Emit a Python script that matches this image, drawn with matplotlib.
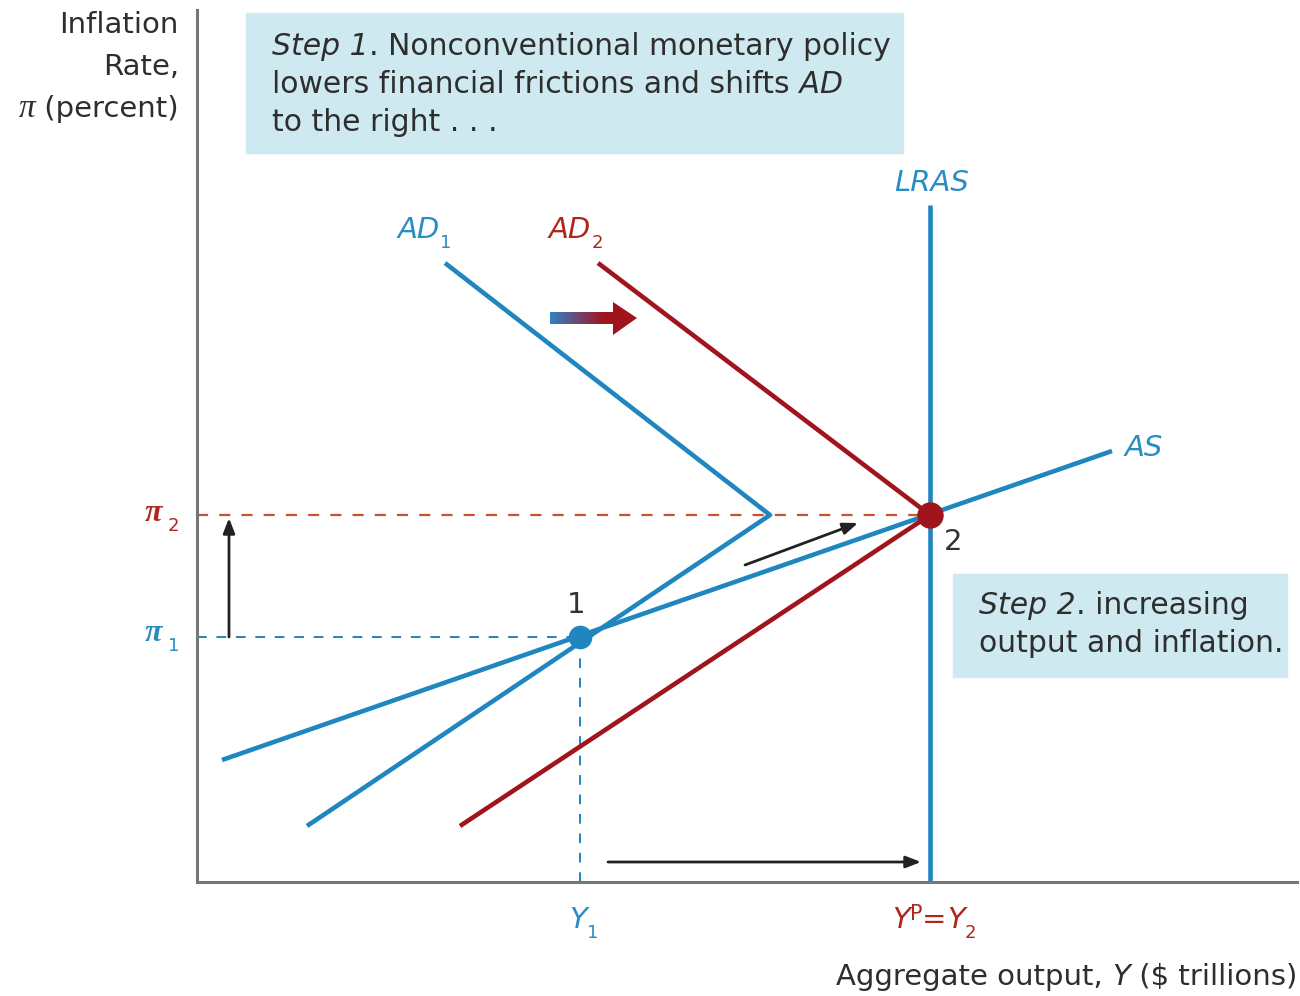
import numpy as np
import matplotlib
matplotlib.use("Agg")
import matplotlib.pyplot as plt
from matplotlib.patches import Polygon, Rectangle
from matplotlib.colors import LinearSegmentedColormap

plt.rcParams['font.family'] = ['DejaVu Sans']

# ---- data (diagram units, origin at axis corner) ----
ad1_x = [248, 573, 110]
ad1_y = [619, 367, 56]
ad2_x = [401, 733, 263]
ad2_y = [619, 367, 56]
as_x = [25, 915]
as_y = [122, 431]
lras_x = [733, 733]
lras_y = [0, 677]
eq1 = (383, 245)
eq2 = (733, 367)

BLUE = '#1f86bf'
RED = '#a0141c'
DRED = '#c8532e'
BLACK = '#222222'
TXT = '#2e2e2e'
BOX = '#cfe9f1'
LBLUE = '#2a8cc4'
LRED = '#b0261e'

fig = plt.figure(figsize=(13, 9.96), dpi=100)
ax = fig.add_axes([197/1300, (996-882)/996, 1100/1300, 872/996])
ax.set_xlim(0, 1100)
ax.set_ylim(0, 872)
for s in ['top', 'right']:
    ax.spines[s].set_visible(False)
for s in ['left', 'bottom']:
    ax.spines[s].set_color('#777777')
    ax.spines[s].set_linewidth(2.2)
ax.set_xticks([])
ax.set_yticks([])

renderer = fig.canvas.get_renderer()


def P(px, py):
    """reference pixel position -> diagram units"""
    return px - 197, 882 - py


def runs(px, py, parts, ha='left', color=TXT, size=21):
    """draw text segments on a common baseline; parts = (text, opts)"""
    x0, y0 = P(px, py)
    made = []
    x = 0
    for s, o in parts:
        o = dict(o)
        dy = o.pop('dy', 0)
        sz = o.pop('size', size)
        col = o.pop('color', color)
        t = ax.text(x0, y0 - dy, s, ha='left', va='baseline', fontsize=sz,
                    color=col, clip_on=False, **o)
        w = t.get_window_extent(renderer).width
        made.append((t, x, dy))
        x += w
    shift = 0
    if ha == 'right':
        shift = -x
    elif ha == 'center':
        shift = -x / 2
    for t, xo, dy in made:
        t.set_position((x0 + xo + shift, y0 - dy))
    return x


# boxes
ax.add_patch(Rectangle(P(246, 153), 657, 140, color=BOX, zorder=0, clip_on=False))
ax.add_patch(Rectangle(P(953, 677), 334, 103, color=BOX, zorder=0, clip_on=False))

# dashed guide lines
ax.plot([0, eq2[0]], [eq2[1], eq2[1]], color=DRED, lw=1.6, dashes=(5, 5), zorder=1)
ax.plot([0, eq1[0]], [eq1[1], eq1[1]], color=BLUE, lw=1.4, dashes=(5, 5), zorder=1)
ax.plot([eq1[0], eq1[0]], [0, eq1[1]], color=BLUE, lw=1.4, dashes=(5, 5), zorder=1)

# curves
lw = 3.3
ax.plot(ad1_x, ad1_y, color=BLUE, lw=lw, solid_capstyle='butt', zorder=3)
ax.plot(ad2_x, ad2_y, color=RED, lw=lw, solid_capstyle='butt', zorder=3)
ax.plot(as_x, as_y, color=BLUE, lw=lw, solid_capstyle='butt', zorder=3)
ax.plot(lras_x, lras_y, color=BLUE, lw=lw, solid_capstyle='butt', zorder=2)

ax.plot(*eq1, 'o', color=BLUE, ms=16, zorder=5)
ax.plot(*eq2, 'o', color=RED, ms=18, zorder=5)

# black arrows
akw = dict(arrowstyle='-|>,head_length=0.9,head_width=0.35', color=BLACK, lw=2.0,
           shrinkA=0, shrinkB=0)
ax.annotate('', xy=(32, 364), xytext=(32, 245), arrowprops=akw)
ax.annotate('', xy=(661, 359), xytext=(548, 317), arrowprops=akw)
ax.annotate('', xy=(724, 20), xytext=(411, 20), arrowprops=akw)

# gradient arrow
poly = Polygon([(353, 558), (416, 558), (416, 547), (440, 564), (416, 580),
                (416, 570), (353, 570)], closed=True, facecolor='none', edgecolor='none')
ax.add_patch(poly)
cmap = LinearSegmentedColormap.from_list(
    'g', [(0, '#2f82c2'), (0.3, '#6a4a78'), (0.62, RED), (1, RED)])
grad = np.linspace(0, 1, 256).reshape(1, -1)
im = ax.imshow(grad, extent=(353, 440, 547, 580), cmap=cmap, aspect='auto', zorder=4)
im.set_clip_path(poly)
ax.set_xlim(0, 1100)
ax.set_ylim(0, 872)

IT = {'style': 'italic'}
PI = {'family': 'Liberation Serif', 'style': 'italic', 'weight': 'bold', 'size': 23}
SUB = {'size': 13, 'dy': 10}

# curve labels
runs(398, 238, [('AD', IT), ('1', SUB)], color=LBLUE)
runs(549, 238, [('AD', IT), ('2', SUB)], color=LRED)
runs(932, 191, [('LRAS', IT)], ha='center', color=LBLUE)
runs(1125, 456, [('AS', IT)], color=LBLUE)
runs(567, 613, [('1', {})], color='#333333')
runs(944, 550, [('2', {})], color='#333333')

# axis value labels
runs(179, 521, [('π', PI), ('  ', {'size': 6}), ('2', SUB)], ha='right', color=LRED)
runs(179, 641, [('π', PI), ('  ', {'size': 6}), ('1', SUB)], ha='right', color=LBLUE)
runs(569, 928, [('Y', IT), ('1', SUB)], color=LBLUE)
runs(892, 928, [('Y', IT), ('P', {'size': 15, 'dy': -8}), ('=', {}), ('Y', IT), ('2', SUB)],
     color=LRED)

# axis titles
runs(1297, 985, [('Aggregate output, ', {}), ('Y', IT), (' ($ trillions)', {})], ha='right')
runs(179, 33, [('Inflation', {})], ha='right')
runs(179, 75, [('Rate,', {})], ha='right')
runs(179, 117, [('π', {'family': 'Liberation Serif', 'style': 'italic', 'size': 24}),
                (' (percent)', {})], ha='right')

# boxes text
BS = 21.5
runs(272, 55, [('Step 1', IT), ('. Nonconventional monetary policy', {})], size=BS)
runs(272, 93, [('lowers financial frictions and shifts', {}), (' AD', IT)], size=BS)
runs(272, 131, [('to the right . . .', {})], size=BS)
runs(979, 614, [('Step 2', IT), ('. increasing', {})], size=BS)
runs(979, 652, [('output and inflation.', {})], size=BS)

fig.savefig('out.png', dpi=100)
